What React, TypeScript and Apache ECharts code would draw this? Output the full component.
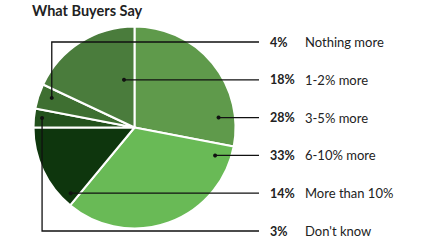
import React, { useEffect, useRef } from "react";
import * as echarts from "echarts";

const titleText = "What Buyers Say";
const categories = ["3-5% more", "6-10% more", "More than 10%", "Don't know", "Nothing more", "1-2% more"];
const values = [28, 33, 14, 3, 4, 18];
const colors = ["#5f9a4b", "#69ba56", "#0e360d", "#23511d", "#3e6f31", "#4a7c3c"];
// label order (top to bottom) as indices into categories
const labelOrder = [4, 5, 0, 1, 2, 3];
// leader anchor inside each slice: angle (deg, clockwise from top) and radius fraction
const anchorAngle = [82.3, 108.2, 224.6, 275.9, 289.7, 348];
const anchorRadius = [0.84, 0.84, 0.9, 0.92, 0.87, 0.5];

const CX = 134.5;
const CY = 127.5;
const R = 101;
const LABEL_TOP = 42;
const LABEL_STEP = 37.8;
const LINE_END = 259;
const PCT_X = 270;
const NAME_X = 305;

export default function App() {
  const ref = useRef<HTMLDivElement>(null);
  useEffect(() => {
    if (!ref.current) return;
    const chart = echarts.init(ref.current, null, { renderer: "svg" });
    const graphics: any[] = [
      {
        type: "text",
        left: 32,
        top: 3,
        style: { text: titleText, font: "bold 14.5px Lato, 'Noto Sans', sans-serif", fill: "#222" },
      },
    ];
    labelOrder.forEach((idx, row) => {
      const y = LABEL_TOP + row * LABEL_STEP;
      const a = (anchorAngle[idx] * Math.PI) / 180;
      const ax = CX + Math.sin(a) * R * anchorRadius[idx];
      const ay = CY - Math.cos(a) * R * anchorRadius[idx];
      const pts = Math.abs(ay - y) > 3 ? [[ax, ay], [ax, y], [LINE_END, y]] : [[ax, y], [LINE_END, y]];
      graphics.push({
        type: "polyline",
        shape: { points: pts },
        style: { stroke: "#111", lineWidth: 1.3, fill: null },
        z: 10,
      });
      graphics.push({
        type: "circle",
        shape: { cx: pts[0][0], cy: pts[0][1], r: 2 },
        style: { fill: "#111" },
        z: 11,
      });
      graphics.push({
        type: "text",
        x: PCT_X,
        y: y,
        style: {
          text: values[idx] + "%",
          font: "bold 12.5px Lato, 'Noto Sans', sans-serif",
          fill: "#222",
          verticalAlign: "middle",
        },
        z: 10,
      });
      graphics.push({
        type: "text",
        x: NAME_X,
        y: y,
        style: {
          text: categories[idx],
          font: "13px Lato, 'Noto Sans', sans-serif",
          fill: "#222",
          verticalAlign: "middle",
        },
        z: 10,
      });
    });
    chart.setOption({
      animation: false,
      backgroundColor: "#ffffff",
      series: [
        {
          type: "pie",
          center: [CX, CY],
          radius: [0, R],
          startAngle: 90,
          clockwise: true,
          label: { show: false },
          labelLine: { show: false },
          itemStyle: { borderColor: "#ffffff", borderWidth: 2 },
          data: categories.map((c, i) => ({ name: c, value: values[i], itemStyle: { color: colors[i] } })),
        },
      ],
      graphic: graphics,
    });
    return () => chart.dispose();
  }, []);
  return <div ref={ref} style={{ position: "fixed", left: 0, top: 0, width: 438, height: 241 }} />;
}
